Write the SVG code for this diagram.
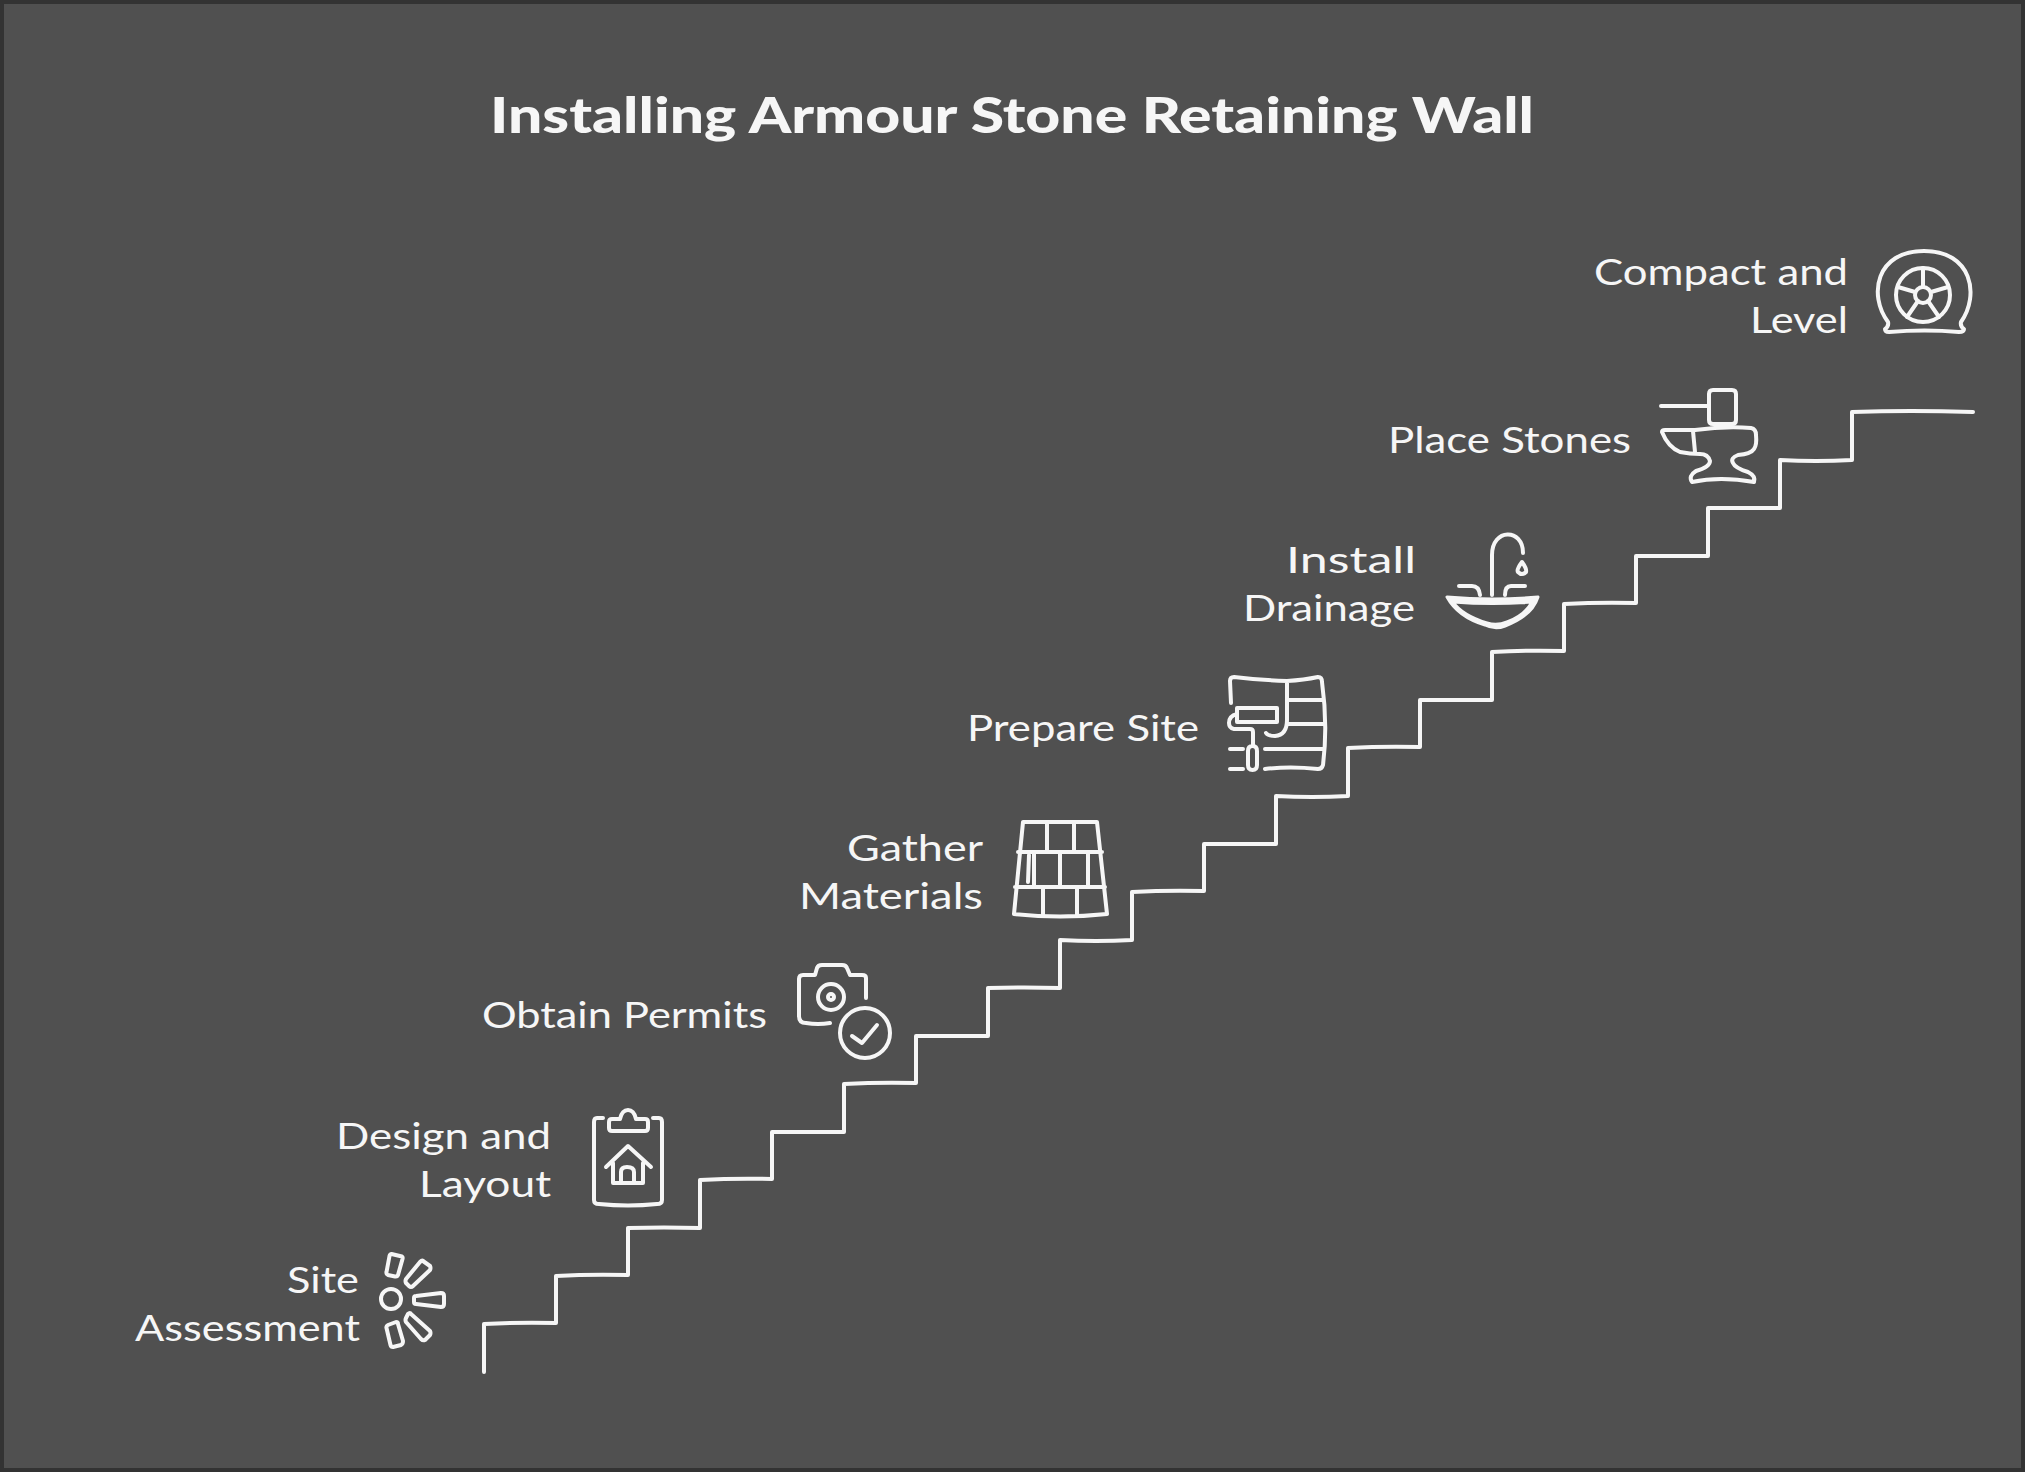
<svg xmlns="http://www.w3.org/2000/svg" width="2025" height="1472" viewBox="0 0 2025 1472">
<style>
.bg{fill:#505050;stroke:#333333;stroke-width:8}
.i{fill:none;stroke:#f6f6f6;stroke-width:4;stroke-linecap:round;stroke-linejoin:round}
.stair{fill:none;stroke:#f6f6f6;stroke-width:4;stroke-linecap:round;stroke-linejoin:round}
text{font-family:"Lato","Open Sans",sans-serif;font-size:37px;fill:#f6f6f6}
.title{font-size:50px;font-weight:900}
</style>
<rect class="bg" x="0" y="0" width="2025" height="1472"/>
<text id="title" class="title" x="490" y="133" textLength="1044" lengthAdjust="spacingAndGlyphs">Installing Armour Stone Retaining Wall</text>
<g id="connectors">
<path class="stair" d="M484,1372V1324Q520,1322 556,1323V1276Q590,1274 628,1275V1228Q664,1227 700,1228V1180Q736,1178 772,1179V1132H844V1084Q880,1082 916,1083V1036H988V988Q1024,987 1060,988V940Q1096,942 1132,940V892Q1168,890 1204,891V844H1276V796Q1312,798 1348,796V748Q1384,746 1420,747V700H1492V652Q1528,650 1564,651V604Q1600,602 1636,603V556H1708V508H1780V460Q1816,462 1852,460V412Q1910,410 1973,412"/>
</g>
<g id="site-assessment">
<text x="287" y="1293" textLength="72" lengthAdjust="spacingAndGlyphs">Site</text>
<text x="135" y="1341" textLength="225" lengthAdjust="spacingAndGlyphs">Assessment</text>
<circle class="i" cx="391" cy="1299" r="10"/>
<path class="i" d="M391.500,1254L402,1256.500Q403,1257 402.500,1259L398,1275Q397,1277 395,1276.500L388,1275Q386,1274 386.500,1272L389.500,1256Q390,1254 391.500,1254ZM423,1261L430,1266Q431,1268 430,1270L413,1286Q411,1288 409,1286L406,1283Q405,1281 406,1279L420,1262Q422,1260 423,1261ZM416,1296L441,1293Q444,1293 444,1296V1304Q444,1307 441,1307L416,1304Q414,1304 414,1302V1298Q414,1296 416,1296ZM411,1314L430,1331Q431,1333 430,1335L425,1340Q423,1341 421,1339L406,1322Q405,1320 406,1318L408,1314Q410,1312 411,1314ZM388,1325L396,1322Q398,1322 398,1324L403,1341Q403,1344 401,1345L393,1347Q391,1347 390.500,1345L386.500,1328Q386,1326 388,1325Z"/>
</g>
<g id="design-and-layout">
<text x="336" y="1149" textLength="215" lengthAdjust="spacingAndGlyphs">Design and</text>
<text x="419" y="1197" textLength="132" lengthAdjust="spacingAndGlyphs">Layout</text>
<path class="i" d="M603,1118H597Q594,1118 594,1122V1200Q594,1204 599,1204Q628,1207 657,1204Q662,1204 662,1200V1122Q662,1118 659,1118H653"/>
<path class="i" d="M620,1119Q622,1110 628,1110Q634,1110 636,1119H645Q648,1119 648,1122V1128Q648,1131 645,1131H612Q609,1131 609,1128V1122Q609,1119 612,1119Z"/>
<path class="i" d="M606,1167L628,1146L651,1167M613,1163V1183H643V1163M621,1182V1172Q621,1167 627,1167Q634,1167 634,1172V1182"/>
</g>
<g id="obtain-permits">
<text x="482" y="1028" textLength="285" lengthAdjust="spacingAndGlyphs">Obtain Permits</text>
<path class="i" d="M866,998V978Q866,975 862,975H850L847,968Q846,965 842,965H822Q818,965 817,968L815,975H803Q799,975 799,979V1016Q799,1023 806,1023Q818,1025 830,1023"/>
<circle class="i" cx="831" cy="997" r="13"/>
<circle class="i" cx="831" cy="997" r="3"/>
<circle class="i" cx="865" cy="1033" r="25"/>
<path class="i" d="M852,1036L862,1043L877,1025"/>
</g>
<g id="gather-materials">
<text x="847" y="861" textLength="136" lengthAdjust="spacingAndGlyphs">Gather</text>
<text x="799" y="909" textLength="184" lengthAdjust="spacingAndGlyphs">Materials</text>
<path class="i" d="M1023,822H1097L1107,914Q1060,919 1014,914ZM1018,852H1102M1015,887H1105M1047,823V852M1074,823V852M1034,853V886M1060,853V886M1088,853V886M1029,855L1028,882M1043,888V915M1077,888V916"/>
</g>
<g id="prepare-site">
<text x="967" y="741" textLength="232" lengthAdjust="spacingAndGlyphs">Prepare Site</text>
<path class="i" d="M1231,703L1230,681Q1230,677 1234,677Q1260,680 1287,681Q1304,680 1318,677Q1322,677 1322,682Q1328,725 1323,765Q1322,769 1318,769Q1290,766 1265,769M1265,749H1323M1287,682V720Q1287,735 1275,736Q1268,736 1266,733M1288,700H1323M1288,724H1325"/>
<path class="i" d="M1237,708H1277V722H1237ZM1237,714Q1229,716 1229,723Q1229,728 1234,729H1250Q1253,729 1253,732V746M1248,751Q1248,746 1252.500,746Q1257,746 1257,751V765Q1257,770 1252.500,770Q1248,770 1248,765ZM1230,749H1243M1230,769H1243"/>
</g>
<g id="install-drainage">
<text x="1286" y="573" textLength="130" lengthAdjust="spacingAndGlyphs">Install</text>
<text x="1243" y="621" textLength="172" lengthAdjust="spacingAndGlyphs">Drainage</text>
<path class="i" d="M1492,595V555C1492,528 1523,528 1523,553M1459,586H1472Q1479,586 1480,595M1525,586H1511Q1505,586 1505,595"/>
<path class="i" d="M1522,562Q1516,570 1518,572Q1522,576 1526,572Q1527,569 1522,562Z"/>
<path class="i" style="fill:#f6f6f6;stroke-width:3" d="M1447,597Q1493,601 1538,597Q1532,616 1505,626Q1495,630 1485,625Q1458,617 1447,597ZM1453,602Q1462,615 1487,623Q1497,626 1507,622Q1525,615 1532,602Q1493,605 1453,602Z" fill-rule="evenodd"/>
</g>
<g id="place-stones">
<text x="1388" y="453" textLength="243" lengthAdjust="spacingAndGlyphs">Place Stones</text>
<path class="i" d="M1661,406H1708M1713,390H1732Q1736,390 1736,394V420Q1736,424 1732,424H1713Q1709,424 1709,420V394Q1709,390 1713,390Z"/>
<path class="i" d="M1695,430Q1725,426 1751,428Q1756,429 1756,435Q1757,445 1754,449Q1751,454 1738,455Q1730,458 1733,463Q1735,468 1748,472Q1756,476 1754,482Q1720,476 1692,482Q1688,476 1696,471Q1710,467 1710,461Q1708,454 1700,454Q1690,454 1680,452Q1668,447 1662,432Q1662,430 1665,430ZM1693,431L1695,452"/>
</g>
<g id="compact-and-level">
<text x="1594" y="285" textLength="254" lengthAdjust="spacingAndGlyphs">Compact and</text>
<text x="1750" y="333" textLength="98" lengthAdjust="spacingAndGlyphs">Level</text>
<path class="i" d="M1888,322C1868,295 1876,251 1924,251C1972,251 1980,295 1961,322Q1960,326 1964,329Q1964,332 1959,332Q1925,329 1889,332Q1885,332 1885,329Q1889,326 1888,322Z"/>
<circle class="i" cx="1923" cy="295" r="27"/>
<circle class="i" cx="1923" cy="295" r="8"/>
<path class="i" d="M1923,287V268M1915,292L1898,287M1931,292L1948,287M1918,301L1907,317M1928,301L1939,317"/>
</g>
</svg>
